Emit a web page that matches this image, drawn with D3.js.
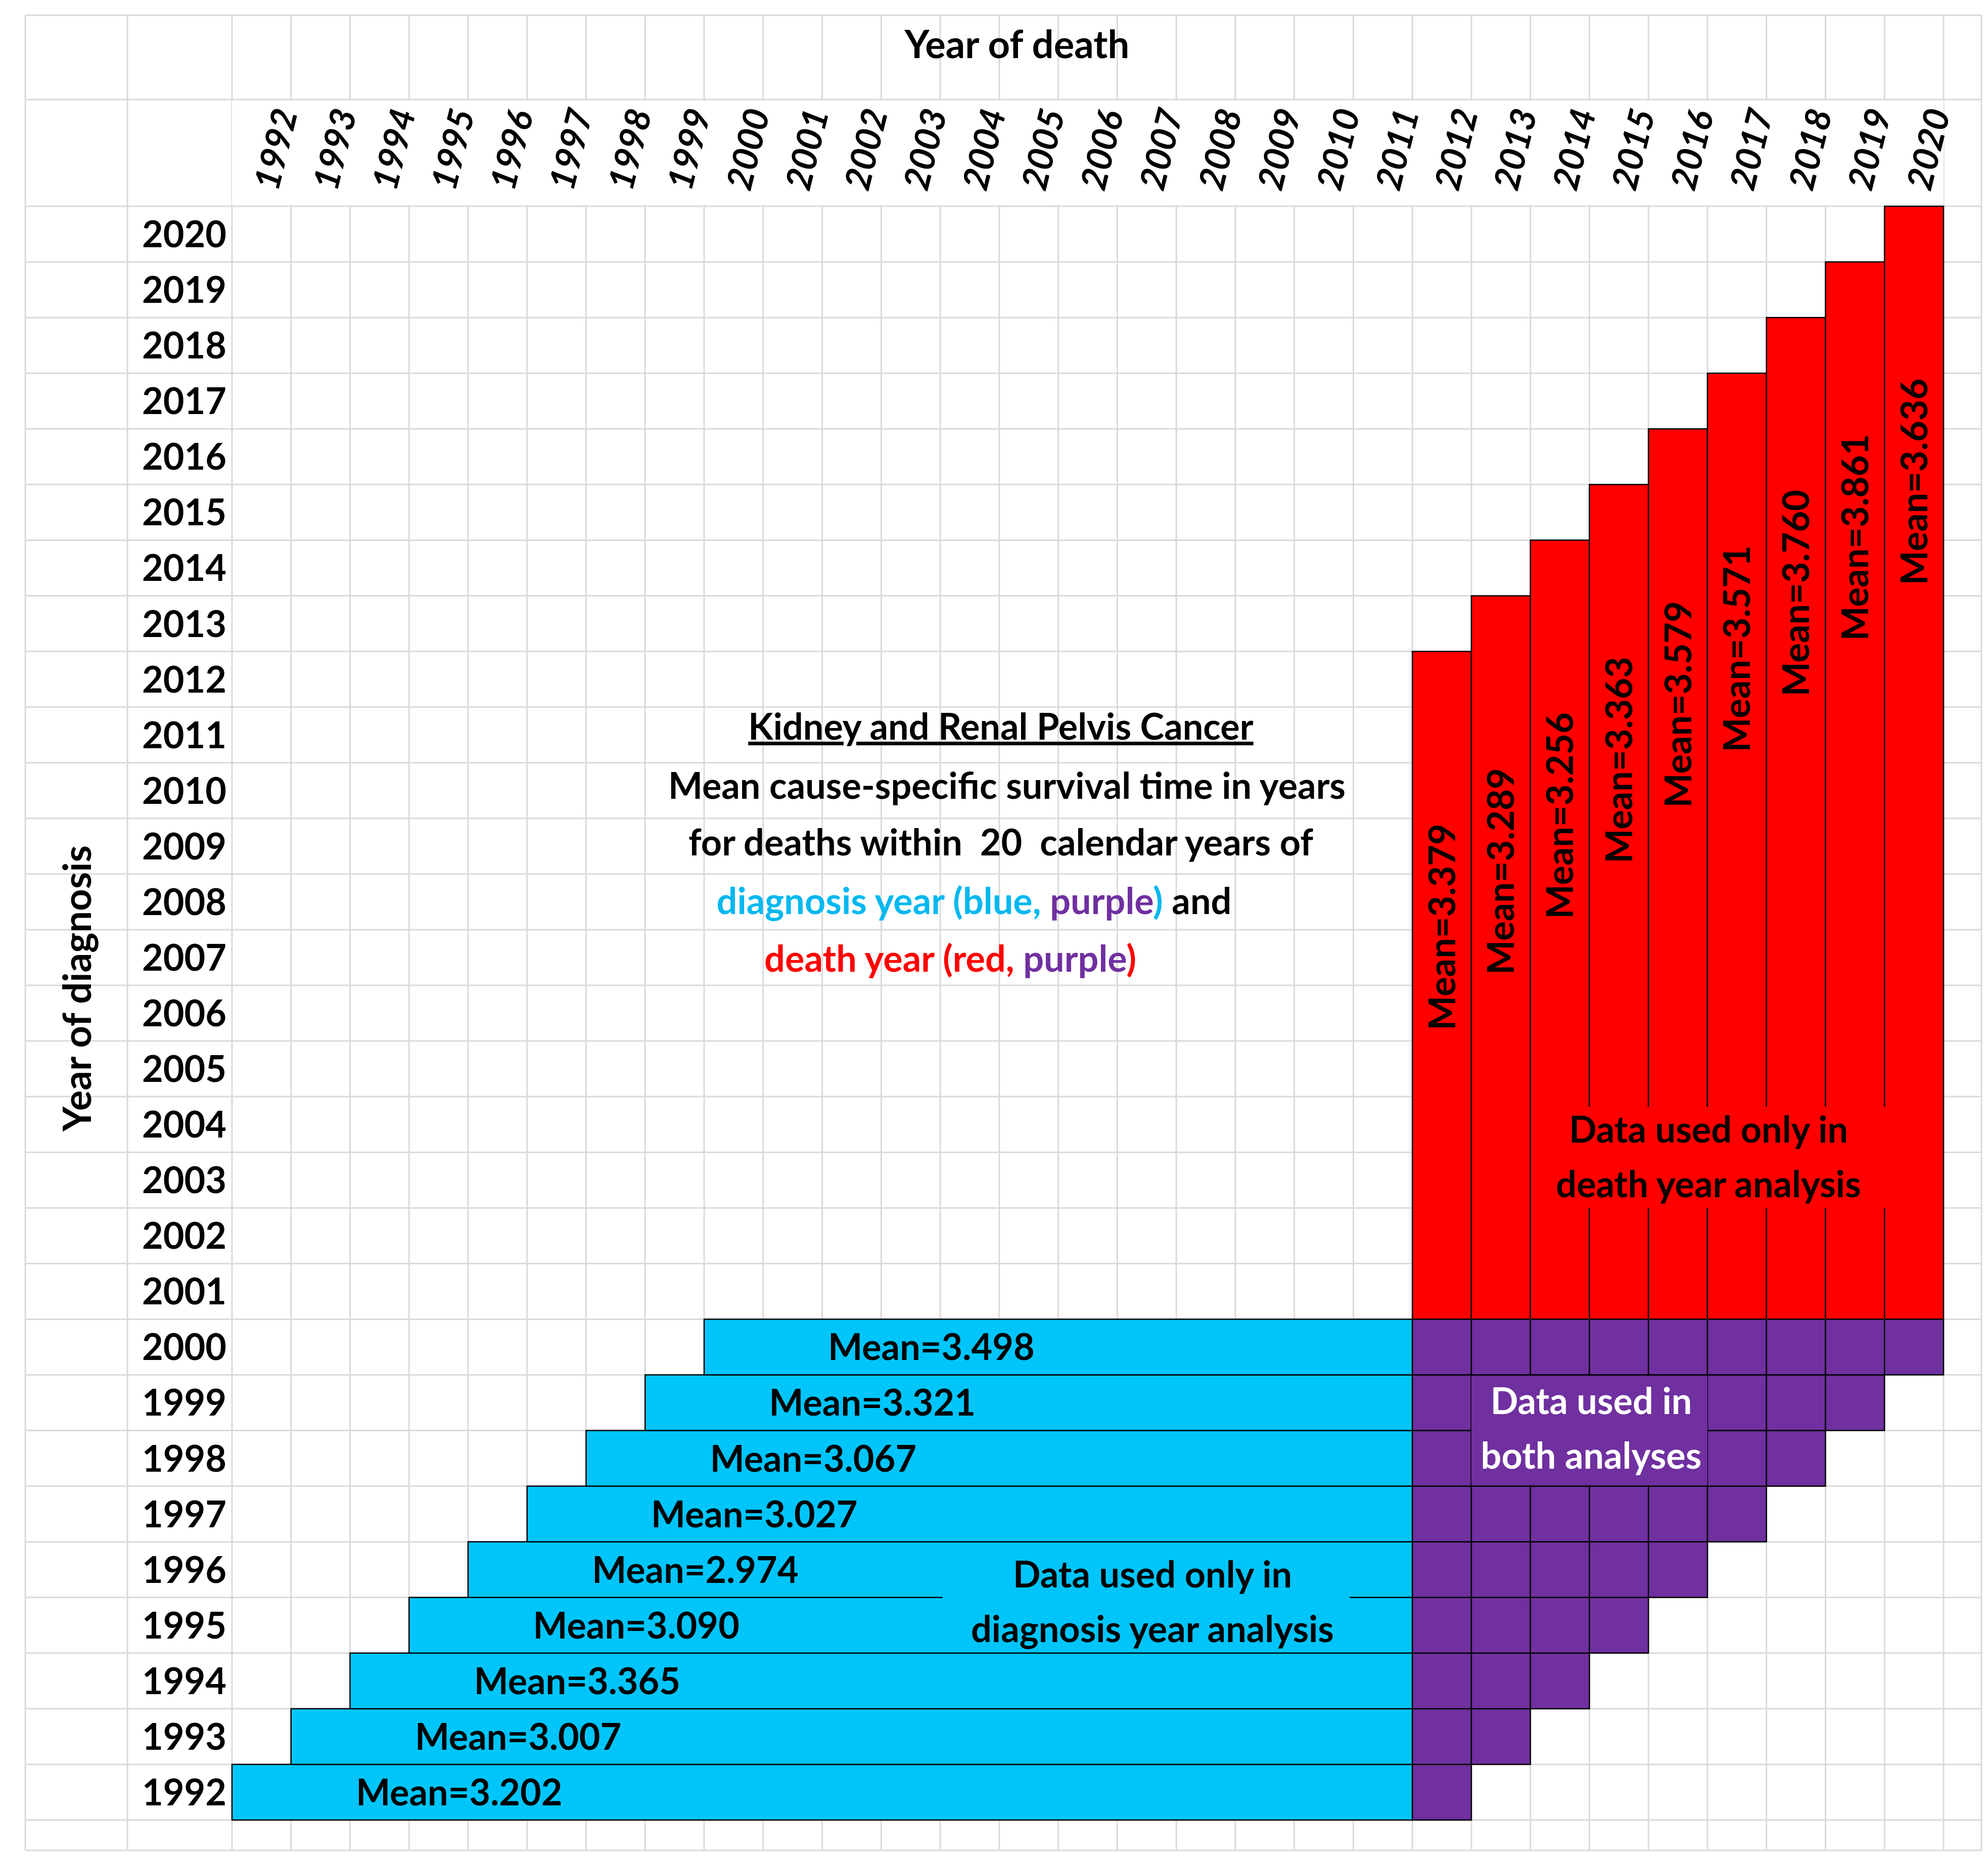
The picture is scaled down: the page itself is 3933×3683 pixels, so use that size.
<!DOCTYPE html>
<html><head><meta charset="utf-8">
<script src="https://cdn.jsdelivr.net/npm/d3@7"></script>
<style>body{margin:0;background:#fff}text{font-family:Lato,"Open Sans",sans-serif;font-weight:700}</style>
</head><body><div id="chart"></div>
<script>
const deathYears = d3.range(1992, 2021);
const diagYears = d3.range(1992, 2021);
const blueYears = [1992, 1993, 1994, 1995, 1996, 1997, 1998, 1999, 2000];
const blueMeans = ["3.202", "3.007", "3.365", "3.090", "2.974", "3.027", "3.067", "3.321", "3.498"];
const redYears = [2012, 2013, 2014, 2015, 2016, 2017, 2018, 2019, 2020];
const redMeans = ["3.379", "3.289", "3.256", "3.363", "3.579", "3.571", "3.760", "3.861", "3.636"];
const BLUE = "#00c5fb", RED = "#ff0000", PURPLE = "#7030a0";

const W = 3933, H = 3683;
const svg = d3.select("#chart").append("svg").attr("width", W).attr("height", H);

const x = d3.scaleBand().domain(deathYears).range([459, 3845]);
const y = d3.scaleBand().domain(diagYears.slice().reverse()).range([408, 3600]);
const cw = x.bandwidth(), rh = y.bandwidth();

// grid
const grid = svg.append("g").attr("stroke", "#dadada").attr("stroke-width", 3);
const vx = [50, 252].concat(deathYears.map(d => x(d)), [3845, 3920]);
vx.forEach(v => grid.append("line").attr("x1", v).attr("x2", v).attr("y1", 30).attr("y2", 3660));
const hy = [30, 197].concat(diagYears.map(d => y(d)), [3600, 3660]);
hy.forEach(v => grid.append("line").attr("y1", v).attr("y2", v).attr("x1", 50).attr("x2", 3920));
// white header strip for tick labels
svg.append("rect").attr("x", 459).attr("y", 199).attr("width", 3386).attr("height", 207).attr("fill", "#fff");

// blue bars
svg.append("g").selectAll("rect").data(blueYears).join("rect")
  .attr("x", d => x(d)).attr("y", d => y(d))
  .attr("width", d => x(2012) - x(d)).attr("height", rh)
  .attr("fill", BLUE).attr("stroke", "#000").attr("stroke-width", 2.5);

// red columns
svg.append("g").selectAll("rect").data(redYears).join("rect")
  .attr("x", d => x(d)).attr("y", d => y(d))
  .attr("width", cw).attr("height", d => y(2001) + rh - y(d))
  .attr("fill", RED).attr("stroke", "#000").attr("stroke-width", 2.5);

// purple cells
const cells = [];
blueYears.forEach(d => redYears.forEach(e => { if (e <= d + 20) cells.push({d, e}); }));
svg.append("g").selectAll("rect").data(cells).join("rect")
  .attr("x", c => x(c.e)).attr("y", c => y(c.d)).attr("width", cw).attr("height", rh)
  .attr("fill", PURPLE).attr("stroke", "#000").attr("stroke-width", 2.5);

// text boxes covering lines
svg.append("rect").attr("x", x(2013)).attr("y", y(1999) + 2).attr("width", 4 * cw).attr("height", 2 * rh - 4).attr("fill", PURPLE);
svg.append("rect").attr("x", x(2014) + 70).attr("y", y(2004) + 20).attr("width", 6.1 * cw).attr("height", 2 * rh - 20).attr("fill", RED);
svg.append("rect").attr("x", 1865).attr("y", y(1996) + 70).attr("width", 805).attr("height", rh).attr("fill", BLUE);

// labels
svg.append("g").selectAll("text").data(blueYears).join("text")
  .attr("x", (d, i) => x(d) + 2.1 * cw).attr("y", d => y(d) + rh / 2 + 26)
  .attr("font-size", 72).attr("fill", "#000").text((d, i) => "Mean=" + blueMeans[i]);

svg.append("g").selectAll("text").data(redYears).join("text")
  .attr("transform", d => `translate(${x(d) + cw / 2 + 26},${y(d) + 545}) rotate(-90)`)
  .attr("text-anchor", "middle").attr("font-size", 72).attr("fill", "#000")
  .text((d, i) => "Mean=" + redMeans[i]);

const note = (lines, cx, cy, fill) => lines.forEach((l, i) =>
  svg.append("text").attr("x", cx).attr("y", cy + i * 108).attr("text-anchor", "middle")
    .attr("font-size", 72).attr("fill", fill).text(l));
note(["Data used in", "both analyses"], 3148, 2797, "#fff");
note(["Data used only in", "death year analysis"], 3380, 2260, "#000");
note(["Data used only in", "diagnosis year analysis"], 2280, 3140, "#000");

// axis tick labels
svg.append("g").selectAll("text").data(deathYears).join("text")
  .attr("transform", d => `translate(${x(d) + cw * 0.78},${380}) rotate(-76)`)
  .attr("font-size", 70).attr("font-style", "italic").text(d => d);
svg.append("g").selectAll("text").data(diagYears).join("text")
  .attr("x", 448).attr("y", d => y(d) + rh / 2 + 26).attr("text-anchor", "end")
  .attr("font-size", 72).text(d => d);

svg.append("text").attr("x", 2012).attr("y", 115).attr("text-anchor", "middle").attr("font-size", 76).text("Year of death");
svg.append("text").attr("transform", "translate(180,1955) rotate(-90)").attr("text-anchor", "middle").attr("font-size", 76).text("Year of diagnosis");

// title block
const t = svg.append("g").attr("text-anchor", "middle").attr("font-size", 72);
t.append("text").attr("x", 1980).attr("y", 1463).attr("text-decoration", "underline").text("Kidney and Renal Pelvis Cancer");
t.append("text").attr("x", 1992).attr("y", 1580).text("Mean cause-specific survival time in years");
t.append("text").attr("x", 1980).attr("y", 1692).attr("xml:space", "preserve").text("for deaths within  20  calendar years of");
const l4 = t.append("text").attr("x", 1927).attr("y", 1808);
l4.append("tspan").attr("fill", "#00b8f0").text("diagnosis year (blue, ");
l4.append("tspan").attr("fill", PURPLE).text("purple");
l4.append("tspan").attr("fill", "#00b8f0").text(")");
l4.append("tspan").attr("fill", "#000").text(" and");
const l5 = t.append("text").attr("x", 1880).attr("y", 1922);
l5.append("tspan").attr("fill", RED).text("death year (red, ");
l5.append("tspan").attr("fill", PURPLE).text("purple");
l5.append("tspan").attr("fill", RED).text(")");
</script></body></html>
